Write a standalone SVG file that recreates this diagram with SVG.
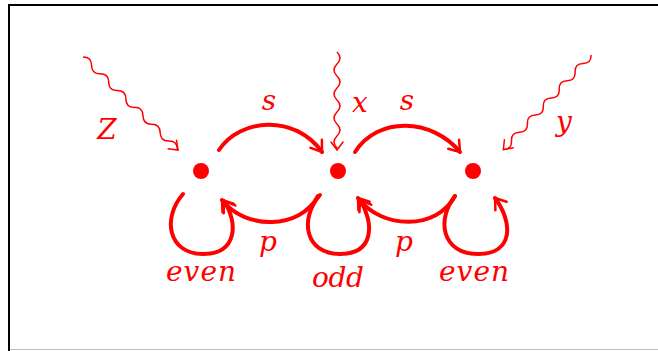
<svg xmlns="http://www.w3.org/2000/svg" width="658" height="351" viewBox="0 0 658 351">
  <style>
    .thick { fill: none; stroke: #ff0000; stroke-width: 4; stroke-linecap: round; }
    .wave { fill: none; stroke: #ff0000; stroke-width: 1.5; }
    .lbl { font-family: "DejaVu Serif", "Liberation Serif", serif; font-style: italic; font-size: 28px; fill: #ff0000; text-anchor: middle; }
    .dot { fill: #ff0000; }
  </style>
  <defs>
    <marker id="ahThick" markerUnits="userSpaceOnUse" markerWidth="30" markerHeight="30" refX="0" refY="0" orient="auto" viewBox="-15 -15 30 30" overflow="visible">
      <path d="M-10,-7 L0,0 L-10,7" fill="none" stroke="#ff0000" stroke-width="2.5" stroke-linecap="round"/>
    </marker>
    <marker id="ahThin" markerUnits="userSpaceOnUse" markerWidth="30" markerHeight="30" refX="0" refY="0" orient="auto" viewBox="-15 -15 30 30" overflow="visible">
      <path d="M-8,-6 L0,0 L-8,6" fill="none" stroke="#ff0000" stroke-width="1.5" stroke-linecap="round"/>
    </marker>
  </defs>
  <rect x="0" y="0" width="658" height="351" fill="#ffffff"/>
  <g id="frame">
    <line x1="8" y1="5" x2="658" y2="5" stroke="#000" stroke-width="2"/>
    <line x1="9" y1="4" x2="9" y2="351" stroke="#000" stroke-width="2"/>
    <line x1="10" y1="349.5" x2="658" y2="349.5" stroke="#bdbdbd" stroke-width="1"/>
  </g>
  <g id="connectors">
    <path class="thick" d="M219,150 C240,118 295,114 322,152" marker-end="url(#ahThick)"/>
    <path class="thick" d="M355,152 C378,116 432,118 460,152" marker-end="url(#ahThick)"/>
    <path class="thick" d="M318,196 C300,230 245,230 222,200" marker-end="url(#ahThick)"/>
    <path class="thick" d="M455,196 C437,230 382,230 358,198" marker-end="url(#ahThick)"/>
    <path class="thick" d="M183,194 C162,218 168,254 203,254 C238,254 238,222 224,201" marker-end="url(#ahThick)"/>
    <path class="thick" d="M320,195 C299,219 305,254 340,254 C375,254 374,222 360,200" marker-end="url(#ahThick)"/>
    <path class="thick" d="M455,196 C436,220 442,254 478,254 C514,254 513,222 495,198" marker-end="url(#ahThick)"/>
    <path class="wave" transform="translate(83,57) rotate(44.4)" d="M0,0 q6,-6 12,0 t12,0 t12,0 t12,0 t12,0 t12,0 t12,0 t12,0 t12,0 t12,0 t12,0 l1,0" marker-end="url(#ahThin)"/>
    <path class="wave" transform="translate(337,52) rotate(90)" d="M0,0 q6,-6 12,0 t12,0 t12,0 t12,0 t12,0 t12,0 t12,0 t12,0 l2,0" marker-end="url(#ahThin)"/>
    <path class="wave" transform="translate(591,55) rotate(132.8)" d="M0,0 q5.85,-6 11.7,0 t11.7,0 t11.7,0 t11.7,0 t11.7,0 t11.7,0 t11.7,0 t11.7,0 t11.7,0 t11.7,0 t11.7,0 l0.3,0" marker-end="url(#ahThin)"/>
  </g>
  <g id="n1"><circle class="dot" cx="201" cy="171" r="8"/></g>
  <g id="n2"><circle class="dot" cx="338" cy="171" r="8"/></g>
  <g id="n3"><circle class="dot" cx="473" cy="171" r="8"/></g>
  <g id="labels">
    <text class="lbl" x="107" y="139">Z</text>
    <text class="lbl" x="360" y="112">x</text>
    <text class="lbl" x="564" y="131">y</text>
    <text class="lbl" x="269" y="110">s</text>
    <text class="lbl" x="407" y="110">s</text>
    <text class="lbl" x="268" y="251">p</text>
    <text class="lbl" x="404" y="251">p</text>
    <text class="lbl" x="201" y="281" textLength="70" lengthAdjust="spacing">even</text>
    <text class="lbl" x="338" y="287" textLength="52" lengthAdjust="spacing">odd</text>
    <text class="lbl" x="474" y="281" textLength="70" lengthAdjust="spacing">even</text>
  </g>
</svg>
